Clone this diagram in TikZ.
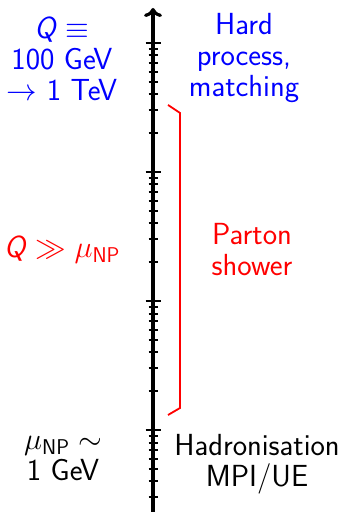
\RequirePackage{fix-cm}
\documentclass[tikz,border=0pt]{standalone}
\usepackage{tikz}
\usetikzlibrary{arrows.meta}
\newcommand{\Qsf}{\textsf{\itshape Q}}
\begin{document}
\begin{tikzpicture}[x=1pt, y=1pt, every node/.style={font=\sffamily\fontsize{30.5}{31}\selectfont, align=center, inner sep=0pt}, tick/.style={line width=2pt}]
	\useasboundingbox (0,0) rectangle (346,514);
	% scale axis, log ticks
	\coordinate (lo) at (153,2);
	\coordinate (hi) at (153,506);
	\draw[line width=3.2pt, -{Computer Modern Rightarrow[length=9pt,width=18pt]}] (lo) -- (hi);
	\foreach \k in {0,1,2,3}
		\draw[tick] (145.5,{84+129*\k}) -- (160.5,{84+129*\k});
	\foreach \k in {-1,0,1,2}
		\foreach \m in {2,...,9} {
			\pgfmathsetmacro\yy{84+129*(\k+log10(\m))}
			\ifdim\yy pt>3pt \draw[tick] (148.5,\yy) -- (157.5,\yy); \fi
		}
	% labels
	\node[blue] (hardQ) at (62,455) {\Qsf$\;\equiv$\\100 GeV\\$\to$ 1 TeV};
	\node[blue] (hard) at (244,456) {Hard\\process,\\matching};
	\node[red, anchor=base] (psQ) at (62,256) {\Qsf$\;\gg\mu_{\mathsf{NP}}$};
	\node[red] (ps) at (252,264.5) {Parton\\shower};
	\node (hadQ) at (63,55) {$\mu_{\mathsf{NP}}\sim$\\1 GeV};
	\node (had) at (257,49.3) {Hadronisation\\MPI/UE};
	% shower range
	\draw[red, line width=1.8pt] (168,409) -- (180,401) -- (180,106) -- (168,99);
\end{tikzpicture}
\end{document}
